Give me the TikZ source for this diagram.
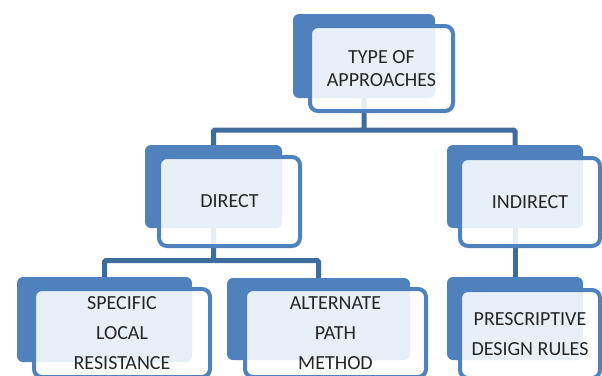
\documentclass[tikz,border=0pt]{standalone}
\usepackage{fontspec}
\setmainfont{Carlito}
\usepackage{xcolor}
\usepackage{tikz}
\definecolor{officeblue}{HTML}{4F81BD}
\definecolor{linkblue}{HTML}{3F6C9F}
\definecolor{txtgray}{HTML}{262626}

\begin{document}
\begin{tikzpicture}[x=1pt,y=-1pt,
    backbox/.style={fill=officeblue,rounded corners=6pt,inner sep=0pt},
    frontbox/.style={draw=officeblue,line width=4pt,rounded corners=8pt,fill=white,
      fill opacity=.875,text opacity=1,text=txtgray,inner sep=0pt,align=center,
      font=\fontsize{20}{23}\selectfont},
    tallfont/.style={font=\fontsize{20}{30}\selectfont},
    link/.style={draw=linkblue,line width=5pt,rounded corners=1.5pt}]
    \clip(0,0) rectangle (602,375);
    \fill[white](0,0) rectangle (602,375);
    % back plates
    \node[backbox,minimum width=142pt,minimum height=84pt] (approach) at (364,56) {};
    \node[backbox,minimum width=137pt,minimum height=83pt] (direct) at (213.5,186.5) {};
    \node[backbox,minimum width=136pt,minimum height=83pt] (indirect) at (515,186.5) {};
    \node[backbox,minimum width=175pt,minimum height=85pt] (specific) at (104.5,319.5) {};
    \node[backbox,minimum width=183pt,minimum height=82pt] (alternate) at (318.5,319) {};
    \node[backbox,minimum width=136pt,minimum height=83pt] (prescriptive) at (515,318.5) {};
    % connectors
    \coordinate (split1) at (364,130);
    \coordinate (split2) at (213.5,260.5);
    \draw[link](approach.south)--(split1)-|(direct.north);
    \draw[link](split1)-|(indirect.north);
    \draw[link](direct.south)--(split2)-|(specific.north);
    \draw[link](split2)-|(alternate.north);
    \draw[link](indirect.south)--(prescriptive.north);
    % front cards with the texts
    \node[frontbox,minimum width=143pt,minimum height=85pt] (approachtxt) at (381.5,68.5) {TYPE OF\\APPROACHES};
    \node[frontbox,minimum width=141pt,minimum height=89pt] (directtxt) at (229.5,201.5) {DIRECT};
    \node[frontbox,minimum width=140pt,minimum height=88pt] (indirecttxt) at (530,202) {INDIRECT};
    \node[frontbox,tallfont,minimum width=176pt,minimum height=88pt] (specifictxt) at (122,333) {SPECIFIC\\LOCAL\\RESISTANCE};
    \node[frontbox,tallfont,minimum width=181pt,minimum height=88pt] (alternatetxt) at (335.5,333) {ALTERNATE\\PATH\\METHOD};
    \node[frontbox,tallfont,minimum width=140pt,minimum height=88pt] (prescriptivetxt) at (530,334) {PRESCRIPTIVE\\DESIGN RULES};
  \end{tikzpicture}
\end{document}
